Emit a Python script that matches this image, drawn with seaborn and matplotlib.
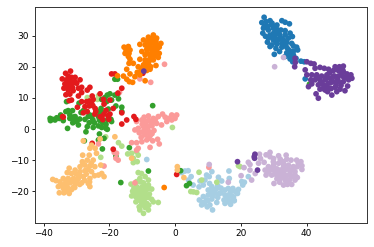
import matplotlib
matplotlib.use("Agg")
import matplotlib.pyplot as plt
import pandas as pd
import seaborn as sns

light_blue_x = [3,4,2,4.9,4.1,16.4,11.2,9.6,10.4,9.1,7.6,13.2,16.5,14.2,8.6,7.3,11.2,12.7,10.1,11.7,13.5,15.2,16.2,17.6,19.3,18.3,16.7,15.2,10.1,8.6,7.4,8.4,9.6,11.2,10.6,11.4,9.8,8.1,12.7,14.9,16.2,17.6,15.2,16.9,17.8,19,20.3,21.1,20.6,22.3,14,13,17,18,12,11,-8.6,5.5,14,13,11.5,10,9,16,18,15.5,16.5,13,12,17,10.5]
light_blue_y = [-13.5,-13.4,-14,-15.3,-16.4,-13.5,-13.7,-14.8,-15.3,-16.4,-16.7,-15.5,-15.9,-16.7,-18,-18.6,-18.5,-19.1,-19.6,-19.9,-20.7,-19.6,-19.1,-19.1,-19.4,-20.1,-20.7,-21.2,-21.2,-21.7,-22.8,-23.6,-22.8,-22.5,-24.4,-26,-25,-24.4,-23.6,-22.8,-22.8,-22.8,-23.9,-24.2,-21.8,-20.7,-16.9,-17.1,-18,-15.3,-19,-21,-21.5,-23,-20,-20.5,-9.8,-18,-20.5,-22,-21.5,-23,-24,-21.5,-23,-22.5,-23.5,-18.2,-19.5,-20,-17.5]

blue_x = [27.1,26.4,27.7,28.9,28.1,29.4,26.9,28.4,29.9,31,30.7,32.2,33.5,32.5,33.5,34.8,26.7,28.9,30.4,31.9,33.5,35,35.7,28.4,29.9,31.5,33,34.5,28.1,29.4,31,32.5,34,35.5,28.9,30.7,32.5,34,36,37,37.3,31.8,30.2,34,35.5,34.5,33.5,36,36.8,35,35.8,38.3,39.3,39.6,30,28,31.5,30,32.5,30.8,29.5,27.5,33,30.5,34.5,36,35,29.5,27.2,31]
blue_y = [35.9,34.2,34.5,34.8,33.1,33.4,32.4,31.8,32.4,33.4,31.3,31.8,31.6,34.8,34.3,33.8,30.8,30.2,29.9,30.2,30.2,30.8,29.7,29.2,28.6,28.8,28.6,29.2,27.9,27,27.3,27.5,27.8,27.5,26.5,25.9,26.3,26.2,26.7,26.3,25.4,24.9,24,24.5,24.9,23.8,23.3,23.8,22.7,23,21.6,21.8,21.6,16.1,33,32.5,30.8,30.8,29,27.8,29.5,29.8,27,28.5,25.5,25,22.5,34,33,32]

light_green_x = [-11.2,-10.2,-13.4,-10.7,-9.1,-8.1,-11.7,-9.6,-8.1,-7.1,-11.7,-10.2,-8.6,-12.9,-11.2,-9.6,-7.8,-13.2,-11.9,-10.3,-8.9,-7.1,-5.1,-11.9,-10.2,-8.6,-6.6,-10.9,-9.1,-8.1,-9.6,-10.7,-17.2,-16.2,-14.4,-13.2,-11.7,-11.2,-12.7,-12.7,-11.5,-22.6,-21.1,-0.8,7.3,19.8,19.3,12.7,4.8,6.6,8.1,5.6,-26.7,-23.3,-23.6,-22,-11,-9.5,-12.5,-10.5,-9,-11,-9,-10.5,-12,-11,-9.5,-8,-9.5,-8,-10,-8]
light_green_y = [-14,-14.3,-17.7,-15.9,-15.3,-16.4,-16.9,-17.3,-18,-19.3,-18.5,-18.8,-19.4,-20,-20.2,-20.5,-20.9,-21.5,-21.8,-22,-22,-22.6,-23.6,-23.4,-23.7,-23.9,-23.4,-25,-25.2,-26,-27.1,-26,-4.4,-5.5,-8,-7.8,-7.3,-8.4,-9.4,-10.8,-10.5,-9.1,-2.5,0.5,-13.9,-12.1,-11.8,-17.1,-20.1,-20.4,-16.4,-20.2,10.1,10.7,9.5,2.4,-21,-22.8,-19,-17,-18.5,-19.5,-21,-21,-20.5,-22.8,-23,-22,-24.5,-24.5,-19.5,-19]

green_x = [-17.5,-18.3,-19.8,-17.2,-18.3,-20.6,-21.3,-19.3,-17.2,-22.3,-20.8,-33,-29.2,-18,-16.2,-16.2,-20.3,-22.5,-23,-22,-27.9,-28.6,-32.5,-31.2,-33.2,-6.8,-32,-30.9,-25.9,-27.4,-23.3,-19.5,-29.9,-38,-37.2,-37.9,-36.5,-34.8,-35.2,-34,-32,-30.4,-31.1,-29.4,-30.1,-32.7,-26.4,-25.4,-26.1,-26.7,-27.1,-24.9,-22.8,-23.3,-22.3,-21,-19.3,-20.6,-23,-21.6,-23.3,-22.1,-27.6,-13.9,-18,-8.1,-16.5,3.5,4.4,1.7,40.9,-31,-24.5,-22,-23,-21,-20.5,-25,-29,-36,-21.5]
green_y = [16,16,11.3,11.5,10.9,10.9,10.1,9.3,9.7,9.5,8.8,8.8,8.3,7.4,7,5.6,6.4,6.6,5.6,5.2,5.9,5.3,5.9,5.9,5.6,7.5,4.5,3.8,4.5,3.1,4,3.1,2.4,3.4,3.1,2.7,2.9,4.5,3.4,2.7,3.4,4,2,1.3,2.9,0.2,4,4,2,0.75,-0.9,0.5,2.7,1,0.5,0.2,2.4,-0.1,-1.6,-3,-3.5,-6.4,-3.8,-6,-8.7,-13.5,-17.2,-18.2,-17.5,-13.4,14.4,3,2,2,3,1.5,3,3,3.2,3.6,9]

pink_x = [-3.2,-7.4,-10.7,-16.9,0.5,-1,-3.8,-3,-2.5,-1,0,-5.1,-6.6,-8.1,-9.4,-10.1,-11.7,-12.2,-8.6,-7.1,-5.6,-4.1,-8.1,-9.6,-11.2,-10.9,-9.4,-7.8,-6.4,-7.6,-9.1,-10.3,-8.6,-10.1,-11.7,-13.2,-6.8,-5.3,-4.8,-7.6,-11.2,-11.7,-18.5,-17.8,-18,-17.3,-21.6,-23.3,-12.2,10.3,-9,-8,-6.5,-7,-9,-8.5,-10,-8,-7,-10,-6,-2]
pink_y = [20.8,15,16.1,11.8,4.5,4.5,4.8,3.8,2.4,2.9,3.4,4,3.4,4.2,3.8,2.9,2.4,-0.3,2.4,1.8,1.8,1.3,0.75,0.75,0.2,-1.2,-0.5,-0.9,-0.5,-2.2,-1.9,-2.7,-3.5,-4.1,-4.4,-4.4,-3.8,-3.3,-4.8,-5.9,-6.2,-6.8,-7.5,-7.8,-9.4,-10,-11.9,-4.8,-17.3,-12.3,2,2.8,2.6,1,0,-1,-1,-3,-1.5,1.5,3,3.4]

red_x = [-31.8,-33.3,-32.5,-34.3,-33,-31.5,-30.4,-28.9,-33.5,-32.2,-31,-29.9,-33.8,-32.5,-31.2,-29.4,-28.4,-31,-32,-33.2,-28.4,-29.4,-31.5,-32.2,-25.9,-26.7,-19.3,-18.3,-16.2,-17.4,-22.8,-25.2,-24.9,-28.4,-26.9,-25.4,-26.1,-27.4,-29.7,-21.8,-19.8,-21.6,-18.8,-24.3,-26.7,-20.3,-21.6,-22.8,-20.1,-34,-9.6,-9.8,-34.2,-24.1,-24.4,-22.3,-20.3,-19.8,-16.2,-16.2,-14.7,-12.5,-11.9,-25.2,-18.8,-27.9,0.5,-32,-33,-31.5,-32,-30.5,-32.5,-26,-25,-21,-22]
red_y = [18.6,17.9,17,16.1,15.8,16.6,16.6,15.8,14.5,14.7,14.9,14.7,13.1,13.4,13.4,13.1,13.4,12.3,11.2,11,11.7,10.6,9.3,9.1,13.4,12.5,17.7,17.7,13.1,11.5,11.3,10.6,9.5,8.8,8.8,8.3,7.4,7.2,7,9.5,9.3,8,6.6,6.6,5.6,4.3,4.8,4,3.1,3.8,18.6,17.9,4,5.6,4.8,3.7,4,4.8,5.2,1.6,2.9,4,3.1,-4.6,-6.5,5.2,-14.6,15.5,14,13.5,16.5,15.2,12.5,9,7.5,6,3]

light_orange_x = [-27.9,-25.4,-25.9,-24.3,-23.9,-28.1,-26.1,-26.7,-24.9,-28.2,-22.6,-27.4,-25.9,-24.4,-28.9,-30.4,-32.2,-32.8,-31.5,-28.9,-27.4,-25.4,-22.3,-23.3,-21.6,-34,-32.5,-30.9,-29.4,-27.9,-25.9,-37.2,-36.2,-35,-33.5,-32,-30.4,-28.4,-26.4,-35.5,-34,-32.5,-31,-35.2,-33.8,-32.2,-25.9,-18.3,-22.8,-13.2,0.7,0.7,2.7,-33,-31.5,-30,-29,-27,-26.5,-28,-25.5,-30,-31.5,-33,-34.5,-29,-27.5,-24.5,-26,-30.5,-33]
light_orange_y = [-3.8,-5.2,-6.2,-6.2,-7.8,-8.4,-8.4,-10,-10,-10.5,-11.6,-11.6,-11.9,-12.1,-12.1,-13.2,-12.6,-14,-14.3,-13.7,-13.4,-13.7,-14.3,-14.8,-15.3,-15.9,-15.9,-15.9,-15.9,-15.3,-15.9,-16.2,-16.6,-17,-17.5,-17.3,-17.7,-17.3,-17.5,-18.5,-19.1,-19.1,-18.8,-20.5,-20.5,-20.7,-18.5,-2.5,-3.2,-9.4,-12.1,-13.2,-15.6,-17,-16.8,-16.8,-15,-14.5,-13,-11,-11,-14.5,-19.5,-18.2,-18,-17.8,-16.5,-15,-17,-18.8,-20]

orange_x = [-6.6,-8.1,-5.6,-9.6,-7.1,-5.8,-4.3,-10.7,-9.1,-7.6,-6.1,-4.8,-8.6,-7.1,-5.6,-10.1,-4.8,-9.1,-7.6,-6.1,-10.7,-9.1,-7.8,-6.6,-5.1,-9.6,-8.4,-5.8,-7.4,-11.2,-10.1,-8.6,-7.6,-11.5,-10.7,-9.1,-15.5,-14.2,-14.9,-13.7,-15.2,-14,-14.2,-13.7,-14,-12.7,-14.7,-13.7,-15.7,-14.7,-13.9,-12.9,-12.2,-17.5,-3.3,-7,-6.5,-8,-6,-7,-8.5,-5.5,-8.5,-7.5,-9,-9,-8,-6,-6.5,-14.5,-10.5]
orange_y = [30.2,29.5,29.2,28.6,28.6,28.1,27.5,27.2,27,27,26.7,26.3,25.6,25.4,25.2,24.9,24.3,23.8,23.8,23.5,22.4,22.2,22.2,22.2,23,20.6,20.9,20.4,20,20,19.5,18.8,19.2,18.2,17.4,15.5,26.3,26.5,25.4,25.4,24.3,24.3,23.3,22.4,21.1,21.1,19.2,17.7,17,16,15.2,15,16.8,17.1,-18.8,27.8,26,26,24.5,24.5,24.5,27,28,23,21.5,20,21.5,28.5,29.4,25.8,18.5]

light_purple_x = [28.9,27.7,25.7,27.1,25.4,22.3,22.8,21,24.4,22.8,20.1,28.9,29.9,31.5,32,33.8,34,35.3,37,38.3,38.6,38.6,37.2,36,34.5,33,31.5,28.4,29.9,27.4,28.4,30.4,32,33.5,35,36.5,27.7,29.4,30.9,32.5,34,35.5,37.2,30.1,31.8,33,34.2,35.5,36.5,32,33.5,34.8,16.2,10.4,23.3,30.3,33,30,31,33,34.5,36,37.5,29.5,31.5,33,35,36.5,31,33,34,30,33,26]
light_purple_y = [-7.5,-8.3,-8.1,-10.7,-11,-10.7,-11.4,-12.4,-14.3,-13.2,-15,-8.9,-10.5,-8.6,-9.7,-8.4,-9.7,-10,-10,-10.5,-11.8,-13,-12.1,-12.1,-11.6,-11.4,-11,-12.1,-12.1,-13.2,-13.7,-13.7,-13.2,-13.2,-13.7,-13.7,-14.8,-14.8,-14.8,-14.8,-15,-15.3,-15.6,-17.5,-17.1,-18,-17.8,-17.8,-16.4,-15.9,-16.4,-16.4,-17.1,-11.4,-16.4,20,23,-11.5,-12.8,-12.3,-12.8,-13,-11,-13,-14.2,-14.2,-14.5,-14.8,-16,-15.6,-16.8,-9.5,-10.5,-9.5]

purple_x = [40.1,41.3,42.3,42.6,44.1,45.4,46.7,36.5,36.6,36.4,39.6,40.1,41.6,43.1,44.6,46.2,48.7,50,51.2,48.2,49.7,51.2,52.3,53.5,53.8,52.8,51.2,49.7,48.2,47.2,45.7,44.1,42.6,41.3,40.6,41.6,43.6,45.2,46.7,48.2,49.7,51.2,52.5,51.7,50.2,48.7,47.2,45.7,44.1,46.4,47.7,42.9,43.6,49.2,24.3,24.1,24.2,19,25.1,-9.5,47,48.5,50.5,46,47.5,49,50.5,46,44.5,43,52,53,51,49,47.5,49.5,45]
purple_y = [21.6,21.1,20.9,19.5,19.8,19.5,19.2,22.7,21.4,20,19,17.4,17.4,17.4,17,17.4,20,20,20.2,18.8,18.8,18.4,17.7,17.4,16.3,15.8,16.8,17,17,16.3,15.8,15.8,15.8,15.8,13.6,14.5,14.2,14.2,14.7,15.2,15.2,15.2,13.8,12.3,12.8,13.4,13.1,12.5,12.8,12,10.9,11.3,9.9,12,-8.1,-8.9,-9.4,-10.5,-13.2,18.6,18,17,17.5,16.5,15,14,14,13.5,15,16.5,16.5,17,19,19.5,13,16,13]

class_names = ["c0","c1","c2","c3","c4","c5","c6","c7","c8","c9"]
class_x = [light_blue_x,blue_x,light_green_x,green_x,pink_x,red_x,light_orange_x,orange_x,light_purple_x,purple_x]
class_y = [light_blue_y,blue_y,light_green_y,green_y,pink_y,red_y,light_orange_y,orange_y,light_purple_y,purple_y]

frames = []
for name, xs, ys in zip(class_names, class_x, class_y):
    n = min(len(xs), len(ys))
    frames.append(pd.DataFrame({"x": xs[:n], "y": ys[:n], "cls": name}))
df = pd.concat(frames, ignore_index=True)

fig = plt.figure(figsize=(3.74, 2.47), dpi=100)
ax = fig.add_axes([35/374, 1-223/247, 332/374, 216/247])
sns.scatterplot(data=df, x="x", y="y", hue="cls", hue_order=class_names,
                palette=sns.color_palette("Paired", 10), s=17, linewidth=0,
                legend=False, ax=ax)
ax.set_xlim(-42.6, 58.4)
ax.set_ylim(-30.2, 39.2)
ax.set_xticks([-40, -20, 0, 20, 40])
ax.set_yticks([-20, -10, 0, 10, 20, 30])
ax.set_xlabel("")
ax.set_ylabel("")
ax.tick_params(labelsize=6.5, length=2.2, width=0.6, pad=2)
for sp in ax.spines.values():
    sp.set_linewidth(0.7)
    sp.set_color("#333333")
fig.savefig("out.png", dpi=100)
